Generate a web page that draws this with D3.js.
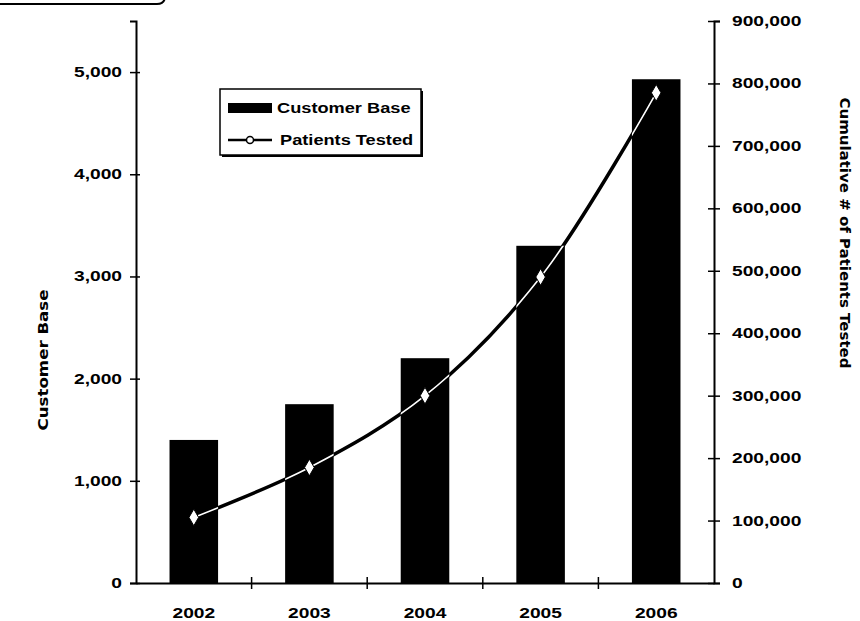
<!DOCTYPE html>
<html>
<head>
<meta charset="utf-8">
<script src="https://cdn.jsdelivr.net/npm/d3@7"></script>
<style>
  body { margin: 0; background: #fff; }
  svg { display: block; }
</style>
</head>
<body>
<div id="chart"></div>
<script>
// data
var years = ["2002", "2003", "2004", "2005", "2006"];
var customerBase = [1400, 1750, 2200, 3300, 4930];
var patientsTested = [105000, 185000, 300000, 490000, 785000];
var leftTicks = [0, 1000, 2000, 3000, 4000, 5000];
var rightTicks = [0, 100000, 200000, 300000, 400000, 500000, 600000, 700000, 800000, 900000];

var W = 860, H = 621;
var margin = { top: 21, right: 146, bottom: 38, left: 136 },
  width = W - margin.left - margin.right,
  height = H - margin.top - margin.bottom;

// the scanned chart is stretched sideways, so text gets widened too
var STRETCH = 1.37;
function stretch(sel, k) {
  sel.each(function () {
    var len = this.getComputedTextLength();
    d3.select(this).attr("textLength", len * k).attr("lengthAdjust", "spacingAndGlyphs");
  });
}

var svg = d3.select("#chart").append("svg")
  .attr("width", W)
  .attr("height", H);

// cut-off header box in the top-left corner
svg.append("path")
  .attr("d", "M-2,4 H157 Q165,4 165,-4")
  .attr("fill", "none")
  .attr("stroke", "#000")
  .attr("stroke-width", 2);

var g = svg.append("g")
  .attr("transform", "translate(" + margin.left + "," + margin.top + ")");

var x = d3.scaleBand().domain(years).range([0, width]).padding(0);
var yL = d3.scaleLinear().domain([0, 5500]).range([height, 0]);
var yR = d3.scaleLinear().domain([0, 900000]).range([height, 0]);
var fmt = d3.format(",");

// bars
var barW = x.bandwidth() * 0.42;
function barX(d) { return x(d) + (x.bandwidth() - barW) / 2; }
g.selectAll("rect.bar")
  .data(years)
  .enter()
  .append("rect")
  .attr("class", "bar")
  .attr("x", barX)
  .attr("width", barW)
  .attr("y", function (d, i) { return yL(customerBase[i]); })
  .attr("height", function (d, i) { return height - yL(customerBase[i]); })
  .attr("fill", "#000");

// same bars as a clip, so the line shows white where it crosses them
var clip = svg.append("defs").append("clipPath").attr("id", "barclip");
clip.selectAll("rect")
  .data(years)
  .enter()
  .append("rect")
  .attr("x", barX)
  .attr("width", barW)
  .attr("y", function (d, i) { return yL(customerBase[i]); })
  .attr("height", function (d, i) { return height - yL(customerBase[i]); });

// smoothed line
var line = d3.line()
  .x(function (d, i) { return x(years[i]) + x.bandwidth() / 2; })
  .y(function (d) { return yR(d); })
  .curve(d3.curveCatmullRom.alpha(0.5));

g.append("path")
  .datum(patientsTested)
  .attr("d", line)
  .attr("fill", "none")
  .attr("stroke", "#000")
  .attr("stroke-width", 3.5);

g.append("path")
  .datum(patientsTested)
  .attr("d", line)
  .attr("clip-path", "url(#barclip)")
  .attr("fill", "none")
  .attr("stroke", "#fff")
  .attr("stroke-width", 1.6);

g.selectAll("path.marker")
  .data(patientsTested)
  .enter()
  .append("path")
  .attr("class", "marker")
  .attr("d", d3.symbol().type(d3.symbolDiamond).size(80))
  .attr("transform", function (d, i) {
    return "translate(" + (x(years[i]) + x.bandwidth() / 2) + "," + yR(d) + ")";
  })
  .attr("fill", "#fff")
  .attr("stroke", "#000")
  .attr("stroke-width", 1);

// left axis
var axL = g.append("g")
  .call(d3.axisLeft(yL).tickValues(leftTicks).tickFormat(fmt).tickSizeOuter(0).tickSize(6));
axL.select(".domain").attr("stroke-width", 2);
axL.selectAll(".tick line").attr("x1", 4).attr("x2", -6).attr("stroke-width", 1.5);
axL.selectAll(".tick text")
  .attr("x", -14)
  .attr("font-family", "'Liberation Sans', Arial, sans-serif")
  .attr("font-weight", "bold")
  .attr("font-size", "14px")
  .attr("fill", "#000")
  .call(stretch, STRETCH);

// right axis
var axR = g.append("g")
  .attr("transform", "translate(" + width + ",0)")
  .call(d3.axisRight(yR).tickValues(rightTicks).tickFormat(fmt).tickSizeOuter(0).tickSize(6));
axR.select(".domain").attr("stroke-width", 2);
axR.selectAll(".tick line").attr("x1", -6).attr("x2", 6).attr("stroke-width", 1.5);
axR.selectAll(".tick text")
  .attr("x", 18)
  .attr("font-family", "'Liberation Sans', Arial, sans-serif")
  .attr("font-weight", "bold")
  .attr("font-size", "14px")
  .attr("fill", "#000")
  .call(stretch, STRETCH);

// bottom axis: labels under bars, ticks on category boundaries
var axB = g.append("g")
  .attr("transform", "translate(0," + height + ")")
  .call(d3.axisBottom(x).tickSize(0).tickSizeOuter(0));
axB.select(".domain").attr("stroke-width", 2);
axB.selectAll(".tick text")
  .attr("y", 35)
  .attr("dy", 0)
  .attr("font-family", "'Liberation Sans', Arial, sans-serif")
  .attr("font-weight", "bold")
  .attr("font-size", "14px")
  .attr("fill", "#000")
  .call(stretch, STRETCH);

axB.selectAll("line.bound")
  .data(years.slice(1))
  .enter()
  .append("line")
  .attr("class", "bound")
  .attr("x1", function (d) { return x(d); })
  .attr("x2", function (d) { return x(d); })
  .attr("y1", -6)
  .attr("y2", 6)
  .attr("stroke", "#000")
  .attr("stroke-width", 1.5);

// axis titles
svg.append("text")
  .attr("transform", "translate(48,360) rotate(-90)")
  .attr("text-anchor", "middle")
  .attr("font-family", "'DejaVu Sans', sans-serif")
  .attr("font-weight", "bold")
  .attr("font-size", "14px")
  .text("Customer Base")
  .attr("textLength", 141)
  .attr("lengthAdjust", "spacingAndGlyphs");

svg.append("text")
  .attr("transform", "translate(840,233) rotate(90)")
  .attr("text-anchor", "middle")
  .attr("font-family", "'DejaVu Sans', sans-serif")
  .attr("font-weight", "bold")
  .attr("font-size", "14px")
  .text("Cumulative # of Patients Tested")
  .attr("textLength", 271)
  .attr("lengthAdjust", "spacingAndGlyphs");

// legend
var lg = svg.append("g").attr("transform", "translate(220,89)");
lg.append("rect")
  .attr("x", 2).attr("y", 2)
  .attr("width", 201).attr("height", 66)
  .attr("fill", "#000");
lg.append("rect")
  .attr("width", 201).attr("height", 66)
  .attr("fill", "#fff")
  .attr("stroke", "#000")
  .attr("stroke-width", 1.5);

lg.append("rect")
  .attr("x", 8).attr("y", 14)
  .attr("width", 44).attr("height", 10)
  .attr("fill", "#000");
lg.append("line")
  .attr("x1", 8).attr("x2", 52)
  .attr("y1", 51).attr("y2", 51)
  .attr("stroke", "#000")
  .attr("stroke-width", 2.5);
lg.append("circle")
  .attr("cx", 30).attr("cy", 51).attr("r", 3.5)
  .attr("fill", "#fff")
  .attr("stroke", "#000")
  .attr("stroke-width", 1.5);

var legendNames = ["Customer Base", "Patients Tested"];
lg.selectAll("text.lab")
  .data(legendNames)
  .enter()
  .append("text")
  .attr("class", "lab")
  .attr("x", function (d, i) { return i === 0 ? 57 : 60; })
  .attr("y", function (d, i) { return i === 0 ? 24 : 56; })
  .attr("font-family", "'Liberation Sans', Arial, sans-serif")
  .attr("font-weight", "bold")
  .attr("font-size", "14px")
  .text(function (d) { return d; })
  .call(stretch, 1.3);
</script>
</body>
</html>
